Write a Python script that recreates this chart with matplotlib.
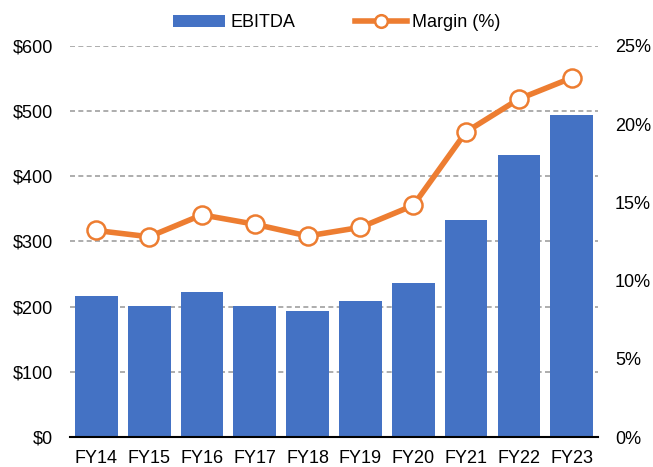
import numpy as np
import matplotlib.pyplot as plt
from matplotlib.ticker import FuncFormatter

plt.rcParams['font.family'] = ['Liberation Sans', 'DejaVu Sans']

# Values
years = ["FY14", "FY15", "FY16", "FY17", "FY18", "FY19", "FY20", "FY21", "FY22", "FY23"]
ebitda = [216, 201, 222, 201, 193, 209, 236, 333, 433, 494]
margin = [13.2, 12.8, 14.2, 13.6, 12.85, 13.4, 14.8, 19.5, 21.6, 22.95]

blue = "#4472C4"
orange = "#ED7D31"

fig, ax1 = plt.subplots(figsize=(6.53, 4.67), dpi=100)
fig.subplots_adjust(left=0.107, right=0.916, top=0.902, bottom=0.064)

x = np.arange(len(years))
bars = ax1.bar(x, ebitda, width=0.81, color=blue, label="EBITDA", zorder=2)

ax1.set_ylim(0, 600)
ax1.set_xlim(-0.5, len(years) - 0.5)
ax1.set_yticks(range(0, 601, 100))
ax1.yaxis.set_major_formatter(FuncFormatter(lambda v, p: f"${v:.0f}"))
ax1.set_xticks(x)
ax1.set_xticklabels(years)
ax1.grid(axis='y', color='#A0A0A0', linestyle=(0, (3, 2)), linewidth=1.2, zorder=0)
ax1.set_axisbelow(True)
for s in ['top', 'right', 'left']:
    ax1.spines[s].set_visible(False)
ax1.spines['bottom'].set_color('black')
ax1.spines['bottom'].set_linewidth(1.5)
ax1.spines['bottom'].set_zorder(3)
ax1.tick_params(axis='y', length=0, labelsize=13, pad=12)
ax1.tick_params(axis='x', length=0, labelsize=13, pad=9)

ax2 = ax1.twinx()
line, = ax2.plot(x, margin, color=orange, linewidth=4, marker='o', markersize=13,
                 markerfacecolor='white', markeredgecolor=orange, markeredgewidth=1.8,
                 label="Margin (%)", zorder=4)
ax2.set_ylim(0, 25)
ax2.set_yticks(range(0, 26, 5))
ax2.yaxis.set_major_formatter(FuncFormatter(lambda v, p: f"{v:.0f}%"))
for s in ax2.spines.values():
    s.set_visible(False)
ax2.tick_params(axis='y', length=0, labelsize=13, pad=12)

fig.legend([bars, line], ["EBITDA", "Margin (%)"], loc='center', bbox_to_anchor=(0.516, 0.951),
           ncol=2, frameon=False, fontsize=13, handlelength=2.9, handletextpad=0.28,
           columnspacing=3.3, markerscale=0.7)

fig.savefig("out.png", dpi=100)
